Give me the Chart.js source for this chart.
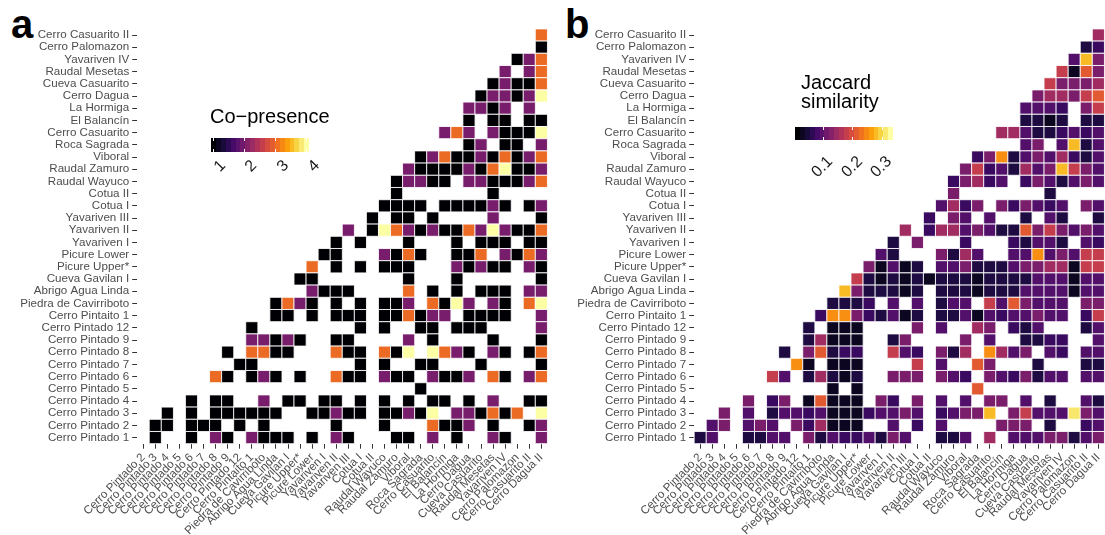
<!DOCTYPE html>
<html lang="en">
<head>
<meta charset="UTF-8">
<title>Co-presence and Jaccard similarity</title>
<script src="https://cdn.jsdelivr.net/npm/chart.js"></script>
<style>
  html, body { margin: 0; padding: 0; background: #fff; }
  body { width: 1105px; height: 535px; overflow: hidden; position: relative; font-family: "Liberation Sans", Arial, sans-serif; }
  canvas { position: absolute; top: 0; }
  .tag { position: absolute; font-weight: bold; font-size: 40px; line-height: 40px; color: #000; }
  .legend-title { position: absolute; font-size: 20px; line-height: 19px; color: #000; white-space: nowrap; }
  .bar { position: absolute; display: flex; }
  .bar div { flex: 1; }
  .bar-tick { position: absolute; width: 1px; height: 3px; background: #fff; }
  .lab-anchor { position: absolute; width: 0; height: 0; transform: rotate(-45deg); transform-origin: 0 0; }
  .lab-anchor span { position: absolute; right: 0; top: 0; font-size: 16px; line-height: 16px; color: #1a1a1a; white-space: nowrap; }
</style>
</head>
<body>
  <div class="tag" style="left:11px; top:4px;">a</div>
  <div class="tag" style="left:565px; top:4px;">b</div>

  <canvas id="copresenceChart" width="557" height="535" style="left:0;"></canvas>
  <canvas id="jaccardChart" width="557" height="535" style="left:557px;"></canvas>

  <div class="legend-title" style="left:210px; top:107px;">Co&minus;presence</div>
  <div class="legend-title" style="left:801px; top:73px;">Jaccard<br>similarity</div>

<script>
// sites on the y axis, top to bottom
const rowSites = ['Cerro Casuarito II', 'Cerro Palomazon', 'Yavariven IV', 'Raudal Mesetas', 'Cueva Casuarito',
  'Cerro Dagua', 'La Hormiga', 'El Balancín', 'Cerro Casuarito', 'Roca Sagrada', 'Viboral', 'Raudal Zamuro',
  'Raudal Wayuco', 'Cotua II', 'Cotua I', 'Yavariven III', 'Yavariven II', 'Yavariven I', 'Picure Lower',
  'Picure Upper*', 'Cueva Gavilan I', 'Abrigo Agua Linda', 'Piedra de Cavirriboto', 'Cerro Pintaito 1',
  'Cerro Pintado 12', 'Cerro Pintado 9', 'Cerro Pintado 8', 'Cerro Pintado 7', 'Cerro Pintado 6',
  'Cerro Pintado 5', 'Cerro Pintado 4', 'Cerro Pintado 3', 'Cerro Pintado 2', 'Cerro Pintado 1'];

// sites on the x axis, left to right
const colSites = ['Cerro Pintado 2', 'Cerro Pintado 3', 'Cerro Pintado 4', 'Cerro Pintado 5', 'Cerro Pintado 6',
  'Cerro Pintado 7', 'Cerro Pintado 8', 'Cerro Pintado 9', 'Cerro Pintado 12', 'Cerro Pintaito 1',
  'Piedra de Cavirriboto', 'Abrigo Agua Linda', 'Cueva Gavilan I', 'Picure Upper*', 'Picure Lower',
  'Yavariven I', 'Yavariven II', 'Yavariven III', 'Cotua I', 'Cotua II', 'Raudal Wayuco', 'Raudal Zamuro',
  'Viboral', 'Roca Sagrada', 'Cerro Casuarito', 'El Balancín', 'La Hormiga', 'Cerro Dagua',
  'Cueva Casuarito', 'Raudal Mesetas', 'Yavariven IV', 'Cerro Palomazon', 'Cerro Casuarito II', 'Cerro Dagua II'];

// co-presence count per cell, one string per row (same order as rowSites), '.' = no cell
const copresenceRows = [
  '.......... .......... .......... ...3',
  '.......... .......... .......... ...1',
  '.......... .......... .......... .123',
  '.......... .......... .......... 2.23',
  '.......... .......... .........1 2113',
  '.......... .......... ........12 2124',
  '.......... .......... .......221 2.2.',
  '.......... .......... .......1.1 1.11',
  '.......... .......... .....232.2 1114',
  '.......... .......... .......12. 11.2',
  '.......... .......... ...1231121 3123',
  '.......... .......... ..21111213 4112',
  '.......... .......... .12211.221 1123',
  '.......... .......... .1.......1 ....',
  '.......... .......... 1111.11112 1.12',
  '.......... .........1 .11.1....2 ...1',
  '.......... .......2.1 4321211324 2113',
  '.......... ......1.1. ..1...1.11 1.11',
  '.......... .....11... 2131..113. 2132',
  '.......... ....3.1.1. 111...2121 1.21',
  '.......... ...11..... ..1...1... ...1',
  '.......... ....2111.. ..3.1.1.11 1.22',
  '.......... .1321.1.1. 112.3142.2 1.34',
  '.......... .11.1.111. 113122.111 1..2',
  '.........1 ........1. 1..11.111. ...2',
  '.........2 2121..11.. ..2.1....1 ...1',
  '.......1.3 311...311. 314.4321.2 1.13',
  '........11 ........1. 1..11...1. ...1',
  '......31.1 21.1..311. 211.2112.3 1.23',
  '.......... .......... ...1...... ....',
  '....1.11.. 2.11.11.1. 1.1.11.1.2 ..11',
  '..1.1.1111 11..11211. 11214.2213 13.4',
  '.11.111.1. 1.....1... 1...3112.1 ..12',
  '.1..1.21.2 111.1.21.. .11.2.1..2 1..2'
];
const copresenceLevels = { '1': 1, '2': 2, '3': 3, '4': 4 };
const copresenceRange = [1, 4];
const copresenceBreaks = [1, 2, 3, 4];

// Jaccard similarity per cell, coded by colour step (see jaccardLevels)
const jaccardRows = [
  '.......... .......... .......... ...6',
  '.......... .......... .......... ..23',
  '.......... .......... .......... .4a5',
  '.......... .......... .......... 7185',
  '.......... .......... .........7 5556',
  '.......... .......... ........56 6578',
  '.......... .......... .......444 3.57',
  '.......... .......... .......221 2.22',
  '.......... .......... .....66422 3434',
  '.......... .......... .......45. 4a24',
  '.......... .......... ...3592454 6324',
  '.......... .......... ..57342645 a754',
  '.......... .......... .35634.354 2454',
  '.......... .......... .5.......2 ....',
  '.......... .......... 4635.53543 4.54',
  '.......... .........3 .54.4..2.4 2..2',
  '.......... .......6.3 6645422857 5454',
  '.......... ......2.5. ..3...3244 2.43',
  '.......... .....42... 5264..4494 5477',
  '.......... ....51412. 4452224556 6177',
  '.......... ...7212121 2221222244 4144',
  '.......... ..a522212. 2221222444 4144',
  '.......... .2223.4.4. 244.748544 4.55',
  '.......... 399532412. 2241434454 4.37',
  '.........2 .111....5. 4..65.324. ..24',
  '.........2 6111..25.. ..5.4..223 3..4',
  '.......2.5 8233..743. 526.9645.4 3.44',
  '........91 .111....7. 4..85...2. ..22',
  '......74.2 6212..555. 543.543524 4.44',
  '.......... .1.1...... ...8...... ....',
  '....5.35.1 8111.53.5. 4.4.55.4.2 ..42',
  '..5.4.2443 411134454. 3455a.5744 4b54',
  '.45.454.53 6111..4.3. 4....555.2 ..34',
  '24..2244.5 24334254.. 224.6.4445 5245'
];
const jaccardLevels = { '1': 0.03, '2': 0.05, '3': 0.07, '4': 0.09, '5': 0.12, '6': 0.15,
  '7': 0.18, '8': 0.21, '9': 0.25, 'a': 0.28, 'b': 0.31 };
const jaccardRange = [0.013, 0.329];
const jaccardBreaks = [0.1, 0.2, 0.3];

// inferno palette stops
const INFERNO = ['#000004', '#160b39', '#420a68', '#6a176e', '#932667', '#bc3754',
  '#dd513a', '#f37819', '#fca50a', '#f6d746', '#fcffa4'];

function hexRgb(h) {
  return [parseInt(h.slice(1, 3), 16), parseInt(h.slice(3, 5), 16), parseInt(h.slice(5, 7), 16)];
}

function inferno(t) {
  t = Math.max(0, Math.min(1, t));
  const p = t * 10;
  const i = Math.min(9, Math.floor(p));
  const f = p - i;
  const a = hexRgb(INFERNO[i]), b = hexRgb(INFERNO[i + 1]);
  const c = a.map((v, k) => Math.round(v + (b[k] - v) * f));
  return `rgb(${c[0]},${c[1]},${c[2]})`;
}

function buildCells(rows, levels) {
  const cells = [];
  rows.forEach((row, r) => {
    const s = row.replace(/ /g, '');
    for (let c = 0; c < s.length; c++) {
      if (s[c] === '.') continue;
      cells.push({ x: colSites[c], y: rowSites[r], v: levels[s[c]] });
    }
  });
  return cells;
}

const FONT = '"Liberation Sans", Arial, sans-serif';

function axisOpts(labels, horizontal) {
  return {
    type: 'category',
    labels: labels,
    offset: true,
    border: { display: false },
    grid: { offset: false, drawOnChartArea: false, drawTicks: true, tickLength: 5, color: '#333333', lineWidth: 1 },
    ticks: {
      autoSkip: false,
      padding: horizontal ? 2 : 3,
      color: '#4d4d4d',
      font: { family: FONT, size: 11.6 },
      maxRotation: horizontal ? 45 : 0,
      minRotation: horizontal ? 45 : 0
    },
    afterFit: (scale) => {
      if (horizontal) scale.height = 91.3; else scale.width = 137.2;
      scale.paddingLeft = 0; scale.paddingRight = 0;
      scale.paddingTop = 0; scale.paddingBottom = 0;
    }
  };
}

function makeHeatmap(id, rows, levels, range) {
  const cells = buildCells(rows, levels);
  return new Chart(document.getElementById(id), {
    type: 'scatter',
    data: {
      datasets: [{
        data: cells,
        pointStyle: 'rect',
        pointRadius: 8.6,
        pointBorderWidth: 1,
        pointBorderColor: 'rgba(255,255,255,0.85)',
        pointBackgroundColor: (ctx) => ctx.raw ? inferno((ctx.raw.v - range[0]) / (range[1] - range[0])) : '#000'
      }]
    },
    options: {
      responsive: false,
      animation: false,
      events: [],
      layout: { padding: { left: 0, top: 28.9, right: 5, bottom: 0 } },
      plugins: { legend: { display: false }, tooltip: { enabled: false } },
      scales: { x: axisOpts(colSites, true), y: axisOpts(rowSites, false) }
    }
  });
}

makeHeatmap('copresenceChart', copresenceRows, copresenceLevels, copresenceRange);
makeHeatmap('jaccardChart', jaccardRows, jaccardLevels, jaccardRange);

// colour bars (20 bins like the original guide)
function colourBar(left, top, height, range, breaks, labelDy, labelDx, fmt) {
  const width = 98, nbin = 20;
  const bar = document.createElement('div');
  bar.className = 'bar';
  Object.assign(bar.style, { left: left + 'px', top: top + 'px', width: width + 'px', height: height + 'px' });
  for (let i = 0; i < nbin; i++) {
    const bin = document.createElement('div');
    bin.style.background = inferno(i / (nbin - 1));
    bar.appendChild(bin);
  }
  document.body.appendChild(bar);
  const half = width / nbin / 2;
  breaks.forEach(b => {
    const x = left + half + (b - range[0]) / (range[1] - range[0]) * (width - 2 * half);
    [top, top + height - 3].forEach(y => {
      const t = document.createElement('div');
      t.className = 'bar-tick';
      Object.assign(t.style, { left: (x - 0.5) + 'px', top: y + 'px' });
      document.body.appendChild(t);
    });
    const a = document.createElement('div');
    a.className = 'lab-anchor';
    Object.assign(a.style, { left: (x + labelDx) + 'px', top: (top + height + labelDy) + 'px' });
    const s = document.createElement('span');
    s.textContent = fmt(b);
    a.appendChild(s);
    document.body.appendChild(a);
  });
}

colourBar(211, 138, 14, copresenceRange, copresenceBreaks, 5, 4, v => String(v));
colourBar(795, 127, 13, jaccardRange, jaccardBreaks, 13, 1, v => v.toFixed(1));
</script>
</body>
</html>
